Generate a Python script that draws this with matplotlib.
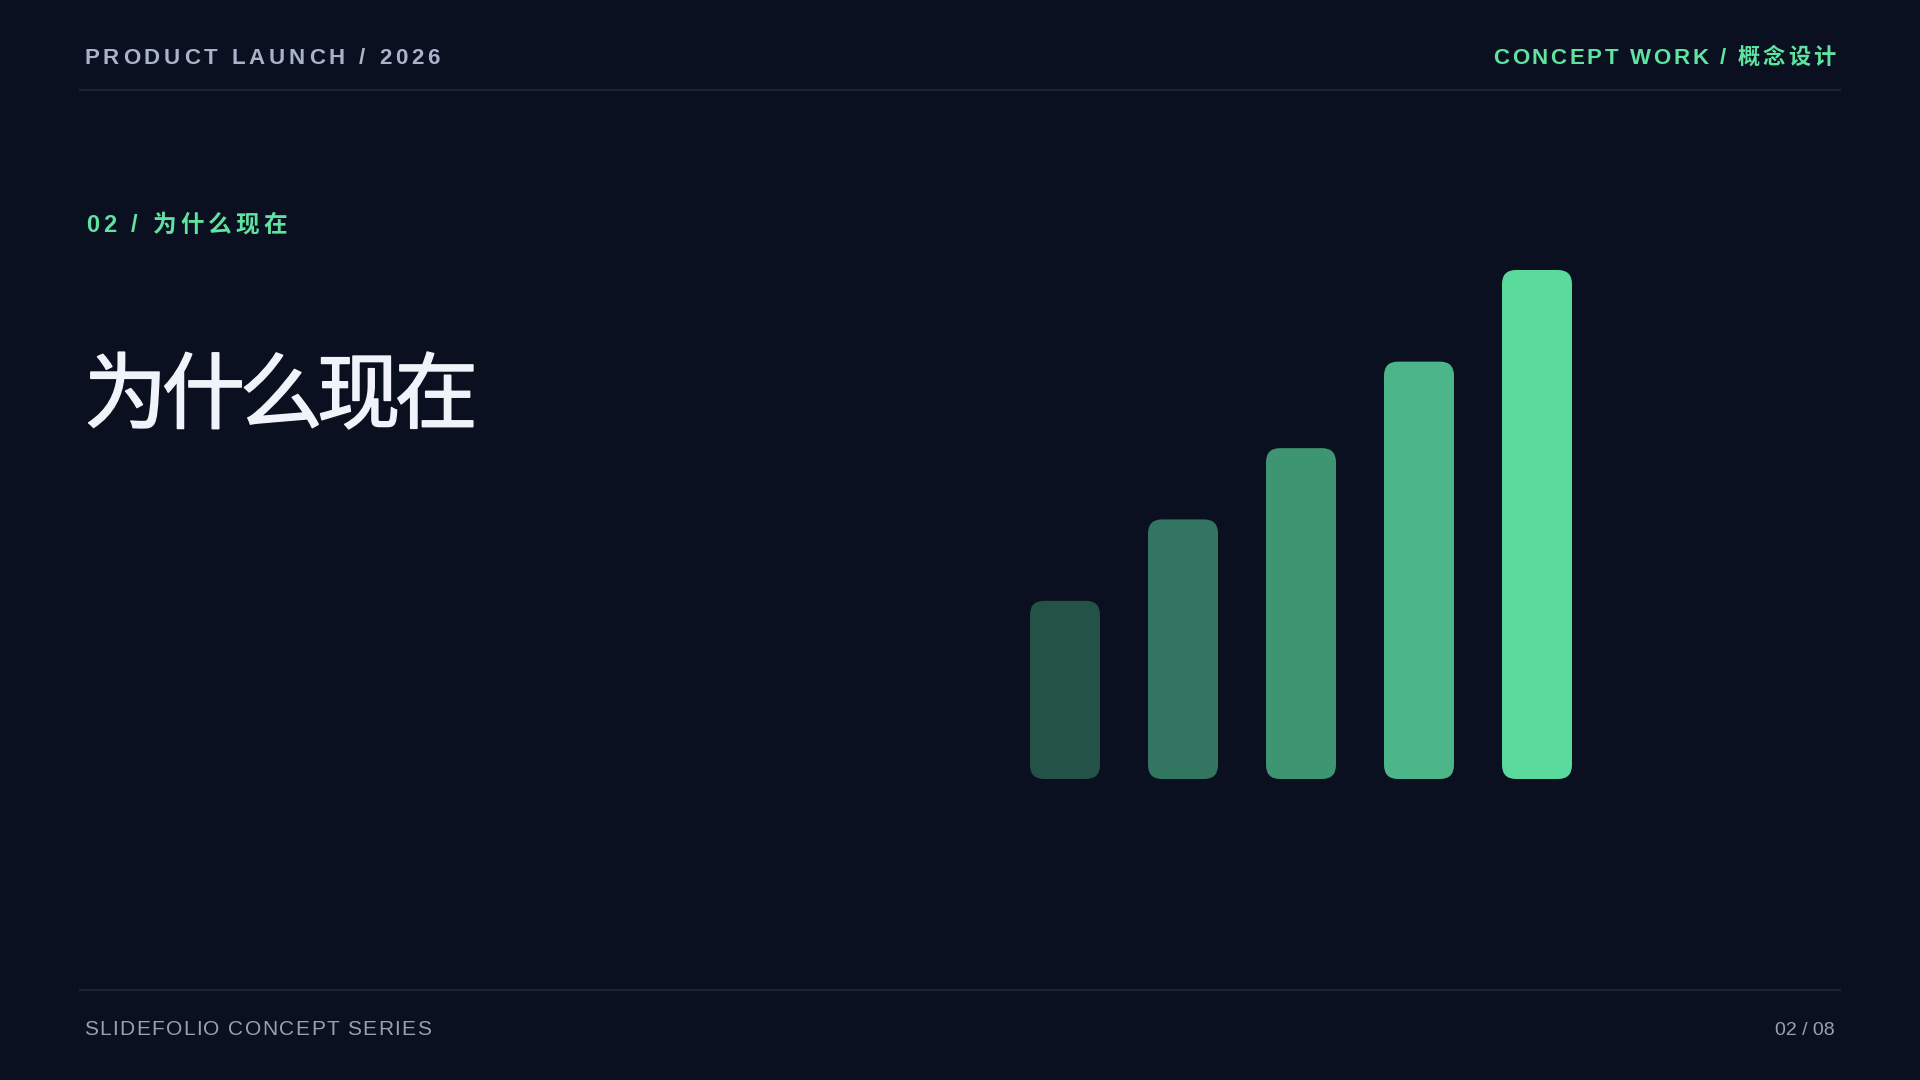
import matplotlib
matplotlib.use("Agg")
import matplotlib.pyplot as plt
import matplotlib.patheffects as pe
from matplotlib.patches import FancyBboxPatch

plt.rcParams['font.family'] = ['Liberation Sans', 'Noto Sans CJK SC', 'DejaVu Sans']

# data
stages = ["1", "2", "3", "4", "5"]
values = [35, 51, 65, 82, 100]
bar_colors = ["#245246", "#327662", "#3e9572", "#4cb58a", "#5ada9c"]

header_left = "PRODUCT LAUNCH / 2026"
header_right = "CONCEPT WORK / 概念设计"
kicker = "02 / 为什么现在"
title = "为什么现在"
footer_left = "SLIDEFOLIO CONCEPT SERIES"
footer_right = "02 / 08"

BG = "#0a1020"
GREEN = "#5fe3a1"
MUTED = "#a9b3c9"
FOOT = "#97a1b5"
RULE = "#1c2433"
TITLE_C = "#f0f4fa"

fig = plt.figure(figsize=(19.2, 10.8), dpi=100, facecolor=BG)

# overlay in pixel units for the slide furniture
ov = fig.add_axes([0, 0, 1, 1])
ov.set_xlim(0, 1920)
ov.set_ylim(1080, 0)
ov.axis("off")
ov.set_facecolor("none")

renderer = fig.canvas.get_renderer()


def text_w(s, **kw):
    t = ov.text(0, 0, s, **kw)
    w = t.get_window_extent(renderer).width
    t.remove()
    return w


def spaced_text(x, y, s, width=None, spacing=0.0, ha="left", **kw):
    # draw text char by char so we can letter-space it
    xw = text_w("x", **kw)
    offs = [text_w(s[:i] + "x", **kw) - xw if i else 0.0 for i in range(len(s))]
    natural = offs[-1] + text_w(s[-1], **kw)
    if width is not None and len(s) > 1:
        spacing = (width - natural) / (len(s) - 1)
    total = natural + spacing * (len(s) - 1)
    x0 = x - total if ha == "right" else x
    for i, c in enumerate(s):
        if c == " ":
            continue
        ov.text(x0 + offs[i] + spacing * i, y, c, ha="left", va="baseline", **kw)


# rules
ov.plot([80, 1840], [90, 90], color=RULE, lw=1.5)
ov.plot([80, 1840], [990, 990], color=RULE, lw=1.5)

# header / footer
spaced_text(84, 64, header_left, width=356, fontsize=16, fontweight="bold", color=MUTED)
spaced_text(1835, 64, header_right, width=342, ha="right", fontsize=16, fontweight="bold", color=GREEN)
spaced_text(84, 1035, footer_left, width=347, fontsize=15, color=FOOT)
ov.text(1835, 1035, footer_right, ha="right", va="baseline", fontsize=14, color=FOOT)

# kicker and title (regular weight thickened a little to get a medium look)
spaced_text(86, 232, kicker, width=201, fontsize=17, fontweight="bold", color=GREEN)
spaced_text(84, 422, title, width=394, fontsize=60, color=TITLE_C,
            family=["Noto Sans CJK SC", "DejaVu Sans"],
            path_effects=[pe.withStroke(linewidth=1.1, foreground=TITLE_C)])

# bars
ax = fig.add_axes([1006 / 1920, (1080 - 779) / 1080, 590 / 1920, 509 / 1080])
ax.set_xlim(-0.5, len(values) - 0.5)
ax.set_ylim(0, 100)
ax.axis("off")
ax.set_facecolor("none")

bars = ax.bar(range(len(values)), values, width=0.593)
px_x = ax.transData.transform((1, 0))[0] - ax.transData.transform((0, 0))[0]
px_y = ax.transData.transform((0, 1))[1] - ax.transData.transform((0, 0))[1]
radius = 14 / px_x
for b, col in zip(bars, bar_colors):
    x, y, w, h = b.get_x(), b.get_y(), b.get_width(), b.get_height()
    b.remove()
    ax.add_patch(FancyBboxPatch((x, y), w, h,
                                boxstyle=f"round,pad=0,rounding_size={radius}",
                                mutation_aspect=px_x / px_y,
                                facecolor=col, edgecolor="none"))

fig.savefig("out.png", dpi=100, facecolor=BG)
